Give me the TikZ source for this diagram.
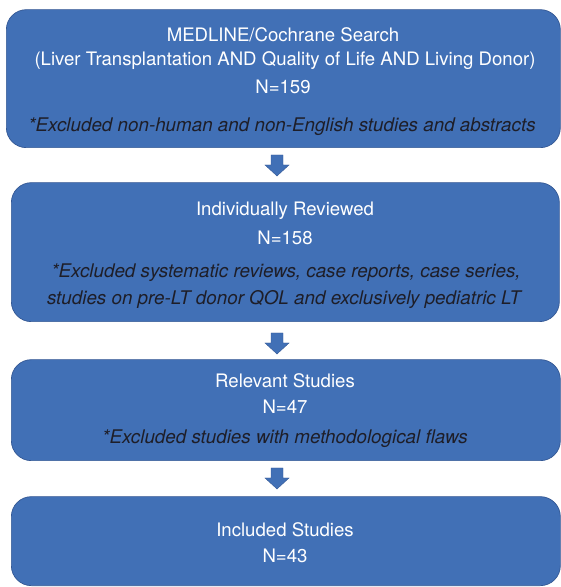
\documentclass[tikz,border=0pt]{standalone}
\usepackage{fontspec}
\setmainfont{TeX Gyre Heros}
\usetikzlibrary{calc}
\definecolor{boxblue}{RGB}{65,112,182}
\definecolor{boxedge}{RGB}{52,88,148}
\definecolor{notecol}{RGB}{30,30,40}
\begin{document}
\begin{tikzpicture}[x=1pt,y=1pt,
  flowbox/.style={draw=boxedge,line width=0.7pt,fill=boxblue,rounded corners=20pt,
    inner sep=0pt,anchor=south west},
  maintext/.style={text=white,font=\fontsize{18.6}{22}\selectfont,inner sep=0pt},
  notetext/.style={text=notecol,font=\fontsize{18.8}{22}\selectfont\itshape,inner sep=0pt},
  blockarrow/.style={fill=boxblue,draw=boxedge,line width=0.4pt}]
\useasboundingbox (0,0) rectangle (561,587);
\begin{scope}
\clip (0,0) rectangle (561,587);
% boxes
\node[flowbox,minimum width=554pt,minimum height=138pt] (b1) at (6,439) {};
\node[flowbox,minimum width=548pt,minimum height=139pt] (b2) at (11,265) {};
\node[flowbox,minimum width=549pt,minimum height=101pt] (b3) at (11,126) {};
\node[flowbox,minimum width=549pt,minimum height=89pt] (b4) at (11,1) {};
\end{scope}
% texts box 1
\node[maintext] (t11) at (283,552) {MEDLINE/Cochrane Search};
\node[maintext] (t12) at (285,526) {(Liver Transplantation AND Quality of Life AND Living Donor)};
\node[maintext] (t13) at (283,500) {N=159};
\node[notetext] (n1) at (282,460) {*Excluded non-human and non-English studies and abstracts};
% texts box 2
\node[maintext] (t21) at (285,376) {Individually Reviewed};
\node[maintext] (t22) at (285,349) {N=158};
\node[notetext] (n21) at (286,314) {*Excluded systematic reviews, case reports, case series,};
\node[notetext] (n22) at (284,287) {studies on pre-LT donor QOL and exclusively pediatric LT};
% texts box 3
\node[maintext] (t31) at (285,206) {Relevant Studies};
\node[maintext] (t32) at (285,180) {N=47};
\node[notetext] (n3) at (285,148) {*Excluded studies with methodological flaws};
% texts box 4
\node[maintext] (t41) at (285,57) {Included Studies};
\node[maintext] (t42) at (285,31) {N=43};
% block arrows
\foreach \top/\nm in {432/a1, 254/a2, 119/a3}{
  \coordinate (\nm) at (277,\top);
  \filldraw[blockarrow] ($(\nm)+(-6,0)$) -- ($(\nm)+(6,0)$) -- ($(\nm)+(6,-10)$) -- ($(\nm)+(12,-10)$)
    -- ($(\nm)+(0,-21)$) -- ($(\nm)+(-12,-10)$) -- ($(\nm)+(-6,-10)$) -- cycle;
}
\end{tikzpicture}
\end{document}
